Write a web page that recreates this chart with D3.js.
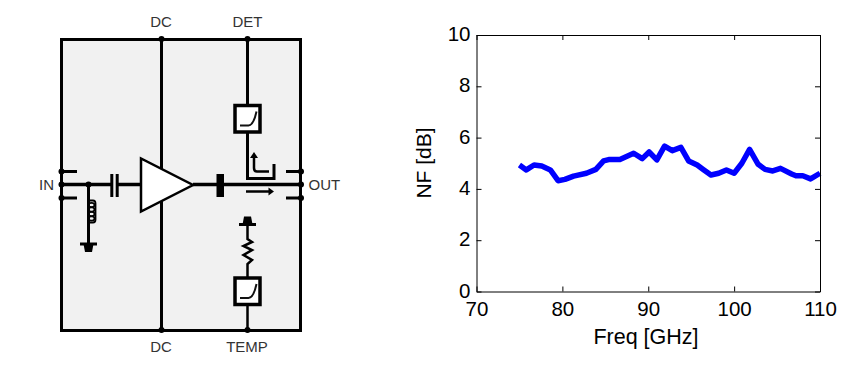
<!DOCTYPE html>
<html>
<head>
<meta charset="utf-8">
<script src="https://cdnjs.cloudflare.com/ajax/libs/d3/7.8.5/d3.min.js"></script>
<style>
  html, body { margin: 0; padding: 0; background: #fff; }
  svg { display: block; }
  text { font-family: "Liberation Sans", Arial, sans-serif; }
</style>
</head>
<body>
<script>
// values
const freqGHz = [75, 75.8, 76.7, 77.6, 78.6, 79.5, 80.3, 81.3, 82.8, 83.9, 84.8, 85.5, 86.7, 88.3, 89.3, 90.1, 91, 91.9, 92.8, 93.8, 94.7, 95.7, 96.4, 97.3, 98.2, 99.1, 100, 100.9, 101.8, 102.8, 103.6, 104.5, 105.4, 106.7, 107.2, 108, 108.9, 110]
const noiseFigureDb = [4.93, 4.74, 4.93, 4.89, 4.74, 4.32, 4.37, 4.5, 4.61, 4.76, 5.09, 5.15, 5.15, 5.39, 5.18, 5.44, 5.13, 5.67, 5.49, 5.62, 5.09, 4.93, 4.76, 4.54, 4.61, 4.74, 4.61, 5.0, 5.54, 4.96, 4.76, 4.7, 4.8, 4.58, 4.51, 4.51, 4.39, 4.61]
const xTicks = [70, 80, 90, 100, 110]
const yTicks = [0, 2, 4, 6, 8, 10]

const svgWidth = 857
const svgHeight = 375
const svg = d3.select('body').append('svg').attr('width', svgWidth).attr('height', svgHeight)

// ---- schematic (left side)
const sch = svg.append('g')
const wire = (pts, w, colour) => sch.append('path')
  .attr('d', d3.line()(pts))
  .attr('fill', 'none')
  .attr('stroke', colour || '#000')
  .attr('stroke-width', w || 3)
const dot = (x, y, r) => sch.append('circle').attr('cx', x).attr('cy', y).attr('r', r || 3).attr('fill', '#000')
const label = (s, x, y, anchor) => sch.append('text')
  .attr('x', x).attr('y', y)
  .attr('text-anchor', anchor || 'middle')
  .attr('font-size', 15)
  .attr('fill', '#333')
  .text(s)

// Detector box with its little curve inside
function detector (cx, boxTop) {
  sch.append('rect').attr('x', cx - 12.5).attr('y', boxTop).attr('width', 25).attr('height', 26.5)
    .attr('fill', '#fff').attr('stroke', '#000').attr('stroke-width', 3.5)
  sch.append('path')
    .attr('d', `M${cx - 7.5},${boxTop + 20} H${cx + 1} Q${cx + 6},${boxTop + 20} ${cx + 9},${boxTop + 6}`)
    .attr('fill', 'none').attr('stroke', '#111').attr('stroke-width', 2)
}

// Ground symbol, dir = 1 points down, dir = -1 points up
function ground (cx, y, dir) {
  wire([[cx - 8.5, y], [cx + 8.5, y]], 3)
  sch.append('path')
    .attr('d', d3.line()([[cx - 5, y], [cx + 5, y], [cx + 3.5, y + dir * 8], [cx - 3.5, y + dir * 8]]) + 'Z')
    .attr('fill', '#000')
}

sch.append('rect').attr('x', 61.5).attr('y', 39.5).attr('width', 239).attr('height', 291)
  .attr('fill', '#f1f1f1').attr('stroke', '#000').attr('stroke-width', 3)

// DC feed, passes behind the amp
wire([[161.5, 39], [161.5, 330]], 3)
dot(161.5, 39)
dot(161.5, 330)

// Input side
wire([[61.5, 184.5], [111.5, 184.5]], 3.5)
wire([[117.5, 184.5], [142, 184.5]], 3.5)
wire([[61.5, 171.5], [77, 171.5]], 3)
wire([[61.5, 198], [77, 198]], 3)
dot(61.5, 171.5)
dot(61.5, 184.5)
dot(61.5, 198)
wire([[111.8, 174], [111.8, 197]], 3)
wire([[117.2, 174], [117.2, 197]], 3)

// Shunt inductor
dot(88.5, 184.5)
wire([[88.5, 184.5], [88.5, 244]], 3)
sch.append('path')
  .attr('d', 'M88.5,200.5 h4.5 q2.5,0 2.5,3 v16 q0,3 -2.5,3 h-4.5')
  .attr('fill', 'none').attr('stroke', '#000').attr('stroke-width', 1.8)
sch.selectAll('ellipse.coil').data([205, 209.5, 214, 218.5]).join('ellipse')
  .attr('class', 'coil')
  .attr('cx', 91.5).attr('cy', d => d).attr('rx', 3).attr('ry', 2.1)
  .attr('fill', 'none').attr('stroke', '#000').attr('stroke-width', 1.8)
ground(88.5, 244, 1)

// Amp
sch.append('path')
  .attr('d', d3.line()([[141, 158.5], [141, 211.5], [193, 185]]) + 'Z')
  .attr('fill', '#fff').attr('stroke', '#000').attr('stroke-width', 2.5)

// Output side
wire([[193, 184.5], [301, 184.5]], 3.5)
sch.append('rect').attr('x', 216.5).attr('y', 174).attr('width', 7.5).attr('height', 23).attr('fill', '#000')
dot(301, 184.5)
dot(301, 171.5)
dot(301, 198)
wire([[286, 171.5], [301, 171.5]], 3)
wire([[286, 198], [301, 198]], 3)

// Power direction arrow
wire([[246, 191.5], [270, 191.5]], 2.5)
sch.append('path').attr('d', d3.line()([[274, 191.5], [268.5, 187.5], [268.5, 195.5]]) + 'Z').attr('fill', '#000')

// Detector branch and coupler
wire([[247.5, 39], [247.5, 178.5], [274, 178.5], [274, 164]], 3)
dot(247.5, 39)
detector(247.5, 105.5)
sch.append('path').attr('d', 'M269,171.5 H257 Q254,171.5 254,168 V157')
  .attr('fill', 'none').attr('stroke', '#000').attr('stroke-width', 2.5)
sch.append('path').attr('d', d3.line()([[254, 152], [250, 158], [258, 158]]) + 'Z').attr('fill', '#000')

// Temp sensor branch
ground(247.5, 224.5, -1)
wire([[247.5, 224.5], [247.5, 239], [252, 242], [243.5, 246], [252, 250], [243.5, 255], [252, 260], [247.5, 264], [247.5, 330]], 2.5)
detector(247.5, 278)
dot(247.5, 330)

label('DC', 161, 27)
label('DET', 247.5, 27)
label('DC', 161, 352)
label('TEMP', 247, 352)
label('IN', 54, 189.5, 'end')
label('OUT', 308.5, 189.5, 'start')

// ---- NF plot (right side)
const plotLeft = 476.5
const plotRight = 820
const plotTop = 35
const plotBottom = 291.5

const x = d3.scaleLinear().domain([70, 110]).range([plotLeft, plotRight])
const y = d3.scaleLinear().domain([0, 10]).range([plotBottom, plotTop])

const plot = svg.append('g')

plot.append('path')
  .datum(freqGHz)
  .attr('d', d3.line().x(d => x(d)).y((d, i) => y(noiseFigureDb[i])))
  .attr('fill', 'none')
  .attr('stroke', '#0000ff')
  .attr('stroke-width', 5.5)
  .attr('stroke-linejoin', 'round')

// Axes with the ticks pointing inward, mirrored on top and right
function styleAxis (g) {
  g.selectAll('path.domain').attr('stroke', '#000').attr('stroke-width', 1)
  g.selectAll('line').attr('stroke', '#000').attr('stroke-width', 1)
  g.selectAll('text').attr('font-size', 20.5).attr('fill', '#000')
    .attr('font-family', '"Liberation Sans", Arial, sans-serif')
}

plot.append('g').attr('transform', `translate(0,${plotBottom})`)
  .call(d3.axisBottom(x).tickValues(xTicks).tickSize(-5).tickSizeOuter(0).tickPadding(9.5))
  .call(styleAxis)
plot.append('g').attr('transform', `translate(0,${plotTop})`)
  .call(d3.axisTop(x).tickValues(xTicks).tickSize(-5).tickSizeOuter(0).tickFormat(''))
  .call(styleAxis)
plot.append('g').attr('transform', `translate(${plotLeft},0)`)
  .call(d3.axisLeft(y).tickValues(yTicks).tickSize(-5).tickSizeOuter(0).tickPadding(6))
  .call(styleAxis)
  .call(g => g.selectAll('text').attr('y', -1))
plot.append('g').attr('transform', `translate(${plotRight},0)`)
  .call(d3.axisRight(y).tickValues(yTicks).tickSize(-5).tickSizeOuter(0).tickFormat(''))
  .call(styleAxis)

plot.append('text')
  .attr('x', 646).attr('y', 343.5)
  .attr('text-anchor', 'middle')
  .attr('font-size', 21.5)
  .text('Freq [GHz]')

plot.append('text')
  .attr('transform', 'translate(431,163) rotate(-90)')
  .attr('text-anchor', 'middle')
  .attr('font-size', 21)
  .text('NF [dB]')
</script>
</body>
</html>
